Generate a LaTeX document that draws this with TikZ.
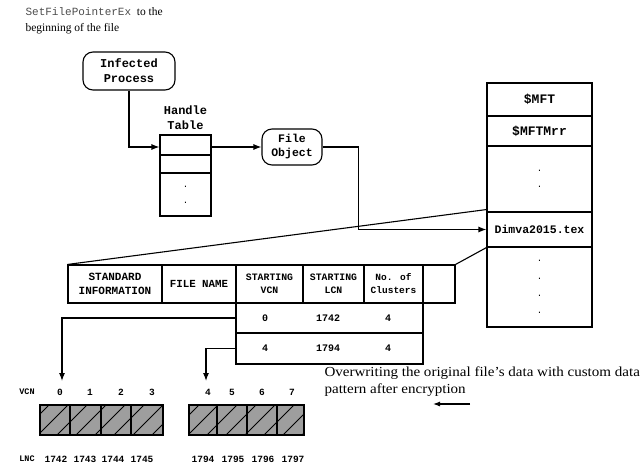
\documentclass[tikz,border=0pt]{standalone}
\usepackage{fontspec}
\setmainfont{Liberation Serif}
\newfontfamily\monof{Liberation Mono}
\newfontfamily\wideserif[FakeStretch=1.09]{Liberation Serif}
\usetikzlibrary{arrows.meta}
\begin{document}
\begin{tikzpicture}[x=1pt,y=-1pt,
  line width=1.1pt,
  mfont/.style={font=\monof\bfseries\fontsize{9.5}{11}\selectfont},
  cell/.style={draw, inner sep=0pt, align=center, mfont},
  rbox/.style={draw, rounded corners=10pt, inner sep=0pt, align=center, font=\monof\bfseries\fontsize{12}{15}\selectfont},
  lbl/.style={inner sep=0pt, mfont},
  arr/.style={-{Latex[length=8pt,width=6pt]}},
  hatchgray/.style={fill=black!38}
]
\useasboundingbox (0,0) rectangle (644,466);

% top note
\node[anchor=north west, inner sep=0pt, align=left, font=\fontsize{11.5}{16}\selectfont] (note) at (25,7)
  {{\monof\fontsize{11}{16}\selectfont\color{black!70}SetFilePointerEx}\ \ to the\\beginning of the file};

% infected process
\node[rbox, minimum width=92pt, minimum height=38pt] (ip) at (129,71) {Infected\\Process};

% handle table
\node[lbl, align=center, font=\monof\bfseries\fontsize{12}{15}\selectfont] (htl) at (185.5,118) {Handle\\Table};
\node[cell, minimum width=51pt, minimum height=20pt] (ht1) at (185.5,145) {};
\node[cell, minimum width=51pt, minimum height=18pt] (ht2) at (185.5,164) {};
\node[cell, minimum width=51pt, minimum height=43pt, font=\monof\fontsize{9}{16}\selectfont] (ht3) at (185.5,194.5) {.\\.};

% file object
\node[rbox, minimum width=60pt, minimum height=36pt, font=\monof\bfseries\fontsize{11.5}{14}\selectfont] (fo) at (292,147) {File\\Object};

% MFT
\node[cell, minimum width=105pt, minimum height=33pt, font=\monof\bfseries\fontsize{13}{14}\selectfont] (m1) at (539.5,99.5) {\$MFT};
\node[cell, minimum width=105pt, minimum height=30pt, font=\monof\bfseries\fontsize{13}{14}\selectfont] (m2) at (539.5,131) {\$MFTMrr};
\node[cell, minimum width=105pt, minimum height=66pt, font=\monof\fontsize{9}{16}\selectfont] (m3) at (539.5,179) {.\\.};
\node[cell, minimum width=105pt, minimum height=35pt, font=\monof\bfseries\fontsize{11.5}{12}\selectfont] (m4) at (539.5,229.5) {Dimva2015.tex};
\node[cell, minimum width=105pt, minimum height=80pt, font=\monof\fontsize{9}{17.3}\selectfont] (m5) at (539.5,287) {.\\.\\.\\.};

% attribute table
\node[cell, minimum width=94pt, minimum height=38pt, font=\monof\bfseries\fontsize{11}{14}\selectfont] (a1) at (115,284) {STANDARD\\INFORMATION};
\node[cell, minimum width=74pt, minimum height=38pt, font=\monof\bfseries\fontsize{10.8}{13}\selectfont] (a2) at (199,284) {FILE NAME};
\node[cell, minimum width=67pt, minimum height=38pt, font=\monof\bfseries\fontsize{9.8}{13}\selectfont] (a3) at (269.5,284) {STARTING\\VCN};
\node[cell, minimum width=61pt, minimum height=38pt, font=\monof\bfseries\fontsize{9.8}{13}\selectfont] (a4) at (333.5,284) {STARTING\\LCN};
\node[cell, minimum width=59pt, minimum height=38pt, font=\monof\bfseries\fontsize{9.5}{13}\selectfont] (a5) at (393.5,284) {No. of\\Clusters};
\node[cell, minimum width=32pt, minimum height=38pt] (a6) at (439,284) {};

% run rows
\node[cell, minimum width=187pt, minimum height=30pt] (r1) at (329.5,318) {};
\node[cell, minimum width=187pt, minimum height=31pt] (r2) at (329.5,348.5) {};
\node[lbl, font=\monof\bfseries\fontsize{10}{11}\selectfont] (r1a) at (265,318) {0};
\node[lbl, font=\monof\bfseries\fontsize{10}{11}\selectfont] (r1b) at (328,318) {1742};
\node[lbl, font=\monof\bfseries\fontsize{10}{11}\selectfont] (r1c) at (388,318) {4};
\node[lbl, font=\monof\bfseries\fontsize{10}{11}\selectfont] (r2a) at (265,348.5) {4};
\node[lbl, font=\monof\bfseries\fontsize{10}{11}\selectfont] (r2b) at (328,348.5) {1794};
\node[lbl, font=\monof\bfseries\fontsize{10}{11}\selectfont] (r2c) at (388,348.5) {4};

% connectors
\draw[arr] (ip.south) |- (ht1.west |- fo.west);
\draw[arr] (ht1.east |- fo.west) -- (fo.west);
\draw[arr] (fo.east) -- ++(36,0) |- (m4.west);
\draw (m3.south west) ++(0,-3) -- (a1.north west);
\draw (m4.south west) -- (a6.north east);
\coordinate (t1) at (62,381);
\coordinate (t2) at (206,381);
\draw[arr] (r1.west) -| (t1);
\draw[arr] (r2.west) -| (t2);

% data blocks
\begin{scope}
  \clip (40,405) rectangle (163,435);
  \fill[hatchgray] (40,405) rectangle (163,435);
  \foreach \i in {0,19,...,200} \draw[line width=0.8pt] (\i,435) -- ++(40,-40);
\end{scope}
\begin{scope}
  \clip (189,405) rectangle (304,435);
  \fill[hatchgray] (189,405) rectangle (304,435);
  \foreach \i in {150,169,...,340} \draw[line width=0.8pt] (\i,435) -- ++(40,-40);
\end{scope}
\node[draw, inner sep=0pt, minimum width=30pt, minimum height=30pt] (b0) at (55,420) {};
\node[draw, inner sep=0pt, minimum width=31pt, minimum height=30pt] (b1) at (85.5,420) {};
\node[draw, inner sep=0pt, minimum width=30pt, minimum height=30pt] (b2) at (116,420) {};
\node[draw, inner sep=0pt, minimum width=32pt, minimum height=30pt] (b3) at (147,420) {};
\node[draw, inner sep=0pt, minimum width=28pt, minimum height=30pt] (c0) at (203,420) {};
\node[draw, inner sep=0pt, minimum width=30pt, minimum height=30pt] (c1) at (232,420) {};
\node[draw, inner sep=0pt, minimum width=30pt, minimum height=30pt] (c2) at (262,420) {};
\node[draw, inner sep=0pt, minimum width=27pt, minimum height=30pt] (c3) at (290.5,420) {};

% VCN labels
\node[lbl, font=\monof\bfseries\fontsize{8.5}{10}\selectfont] (vcn) at (27,392) {VCN};
\node[lbl] (v0) at (60,392) {0};
\node[lbl] (v1) at (90,392) {1};
\node[lbl] (v2) at (121,392) {2};
\node[lbl] (v3) at (152,392) {3};
\node[lbl] (v4) at (208,392) {4};
\node[lbl] (v5) at (232,392) {5};
\node[lbl] (v6) at (262,392) {6};
\node[lbl] (v7) at (292,392) {7};

% LNC labels
\node[lbl, font=\monof\bfseries\fontsize{8.5}{10}\selectfont] (lnc) at (27,459) {LNC};
\node[lbl] (l0) at (56,459) {1742};
\node[lbl] (l1) at (85,459) {1743};
\node[lbl] (l2) at (113,459) {1744};
\node[lbl] (l3) at (142,459) {1745};
\node[lbl] (l4) at (203,459) {1794};
\node[lbl] (l5) at (233,459) {1795};
\node[lbl] (l6) at (263,459) {1796};
\node[lbl] (l7) at (293,459) {1797};

% overwrite note
\node[anchor=west, inner sep=0pt, align=left, font=\wideserif\fontsize{13.8}{17}\selectfont] (ow) at (324,382)
  {Overwriting the original file’s data with custom data\\pattern after encryption};
\coordinate (as) at (470,404);
\coordinate (ae) at (433,404);
\draw[-{Latex[length=7pt,width=5pt]}] (as) -- (ae);
\end{tikzpicture}
\end{document}
